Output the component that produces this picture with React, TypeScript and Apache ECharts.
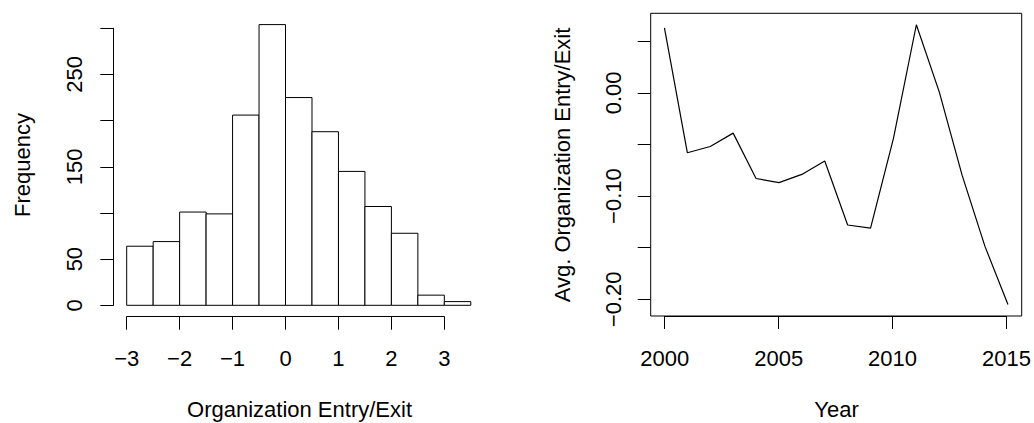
import React, { useEffect, useRef } from "react";
import * as echarts from "echarts";

// Histogram data
const binEdges = [-3, -2.5, -2, -1.5, -1, -0.5, 0, 0.5, 1, 1.5, 2, 2.5, 3, 3.5];
const counts = [64, 69, 101, 99, 206, 304, 225, 188, 145, 107, 78, 11, 4];
const histXTicks = [-3, -2, -1, 0, 1, 2, 3];
const histYTicks = [0, 50, 100, 150, 200, 250, 300];
const histYLabels = [0, 50, 150, 250];

// Line data
const years = [2000, 2001, 2002, 2003, 2004, 2005, 2006, 2007, 2008, 2009, 2010, 2011, 2012, 2013, 2014, 2015];
const avgEntryExit = [0.063, -0.058, -0.052, -0.039, -0.083, -0.087, -0.079, -0.066, -0.128, -0.131, -0.044, 0.066, 0.001, -0.080, -0.149, -0.205];
const yearTicks = [2000, 2005, 2010, 2015];
const avgYTicks = [-0.2, -0.15, -0.1, -0.05, 0, 0.05];
const avgYLabels = [-0.2, -0.1, 0];

const FONT = "'Liberation Sans', Arial, Helvetica, sans-serif";
const FS = 22;
const minus = (s: string) => s.replace("-", "\u2212");

export default function App() {
  const ref = useRef<HTMLDivElement>(null);
  useEffect(() => {
    if (!ref.current) return;
    const chart = echarts.init(ref.current, undefined, { renderer: "svg" });
    const histData = counts.map((c, i) => [binEdges[i], binEdges[i + 1], c]);
    const lineData = years.map((y, i) => [y, avgEntryExit[i]]);
    const axisLine = { show: true, lineStyle: { color: "#000", width: 1 } };
    const tickStyle = { color: "#000", width: 1 };
    const labelStyle = { color: "#000", fontSize: FS, fontFamily: FONT };

    const option: any = {
      animation: false,
      textStyle: { fontFamily: FONT },
      grid: [
        { left: 126.7, top: 28.3, width: 344.1, height: 277 },
        { left: 126.7, top: 300, width: 317.6, height: 16.7 },
        { left: 113.3, top: 28.3, width: 10, height: 277 },
        { left: 650.7, top: 13.3, width: 371, height: 302.7, show: true, borderColor: "#000", borderWidth: 1, backgroundColor: "transparent" },
        { left: 664.7, top: 300, width: 343.3, height: 16 },
        { left: 650.7, top: 41.3, width: 10, height: 258 },
      ],
      xAxis: [
        { gridIndex: 0, type: "value", min: -3, max: 3.5, show: false },
        {
          gridIndex: 1, type: "value", min: -3, max: 3, position: "bottom",
          axisLine, splitLine: { show: false },
          axisTick: { show: true, length: 13, lineStyle: tickStyle, customValues: histXTicks },
          axisLabel: { ...labelStyle, margin: 42, verticalAlign: "middle", customValues: histXTicks, formatter: (v: number) => minus(String(v)) },
        },
        { gridIndex: 2, type: "value", min: 0, max: 1, show: false },
        { gridIndex: 3, type: "value", min: 1999.4, max: 2015.6, show: false },
        {
          gridIndex: 4, type: "value", min: 2000, max: 2015, position: "bottom",
          axisLine, splitLine: { show: false },
          axisTick: { show: true, length: 13, lineStyle: tickStyle, customValues: yearTicks },
          axisLabel: { ...labelStyle, margin: 42, verticalAlign: "middle", customValues: yearTicks, formatter: (v: number) => String(v) },
        },
        { gridIndex: 5, type: "value", min: 0, max: 1, show: false },
      ],
      yAxis: [
        { gridIndex: 0, type: "value", min: 0, max: 300, show: false },
        { gridIndex: 1, type: "value", min: 0, max: 1, show: false },
        {
          gridIndex: 2, type: "value", min: 0, max: 300, position: "left",
          axisLine, splitLine: { show: false },
          axisTick: { show: true, length: 13, lineStyle: tickStyle, customValues: histYTicks },
          axisLabel: { ...labelStyle, rotate: 90, margin: 39, verticalAlign: "middle", customValues: histYLabels, formatter: (v: number) => String(v) },
        },
        { gridIndex: 3, type: "value", min: -0.2162, max: 0.0771, show: false },
        { gridIndex: 4, type: "value", min: 0, max: 1, show: false },
        {
          gridIndex: 5, type: "value", min: -0.2, max: 0.05, position: "left",
          axisLine: { show: false }, splitLine: { show: false },
          axisTick: { show: true, length: 13, lineStyle: tickStyle, customValues: avgYTicks },
          axisLabel: { ...labelStyle, rotate: 90, margin: 37, verticalAlign: "middle", customValues: avgYLabels, formatter: (v: number) => minus(v.toFixed(2)) },
        },
      ],
      series: [
        {
          type: "custom",
          xAxisIndex: 0,
          yAxisIndex: 0,
          data: histData,
          encode: { x: [0, 1], y: 2 },
          renderItem: (params: any, api: any) => {
            const p0 = api.coord([api.value(0), api.value(2)]);
            const p1 = api.coord([api.value(1), 0]);
            return {
              type: "rect",
              shape: { x: p0[0], y: p0[1], width: p1[0] - p0[0], height: p1[1] - p0[1] },
              style: { fill: "#fff", stroke: "#000", lineWidth: 1 },
            };
          },
        },
        {
          type: "line",
          xAxisIndex: 3,
          yAxisIndex: 3,
          data: lineData,
          showSymbol: false,
          lineStyle: { color: "#000", width: 1.2 },
        },
      ],
      graphic: [
        { type: "text", x: 22, y: 165, rotation: Math.PI / 2, style: { text: "Frequency", fill: "#000", font: `${FS}px ${FONT}`, align: "center", verticalAlign: "middle" } },
        { type: "text", x: 299.5, y: 409.5, style: { text: "Organization Entry/Exit", fill: "#000", font: `${FS}px ${FONT}`, align: "center", verticalAlign: "middle" } },
        { type: "text", x: 562.5, y: 165, rotation: Math.PI / 2, style: { text: "Avg. Organization Entry/Exit", fill: "#000", font: `${FS}px ${FONT}`, align: "center", verticalAlign: "middle" } },
        { type: "text", x: 836.5, y: 409.5, style: { text: "Year", fill: "#000", font: `${FS}px ${FONT}`, align: "center", verticalAlign: "middle" } },
      ],
    };
    chart.setOption(option);
    return () => chart.dispose();
  }, []);
  return (
    <div
      ref={ref}
      style={{ position: "fixed", left: 0, top: 0, width: 1034, height: 423, background: "#fff" }}
    />
  );
}
